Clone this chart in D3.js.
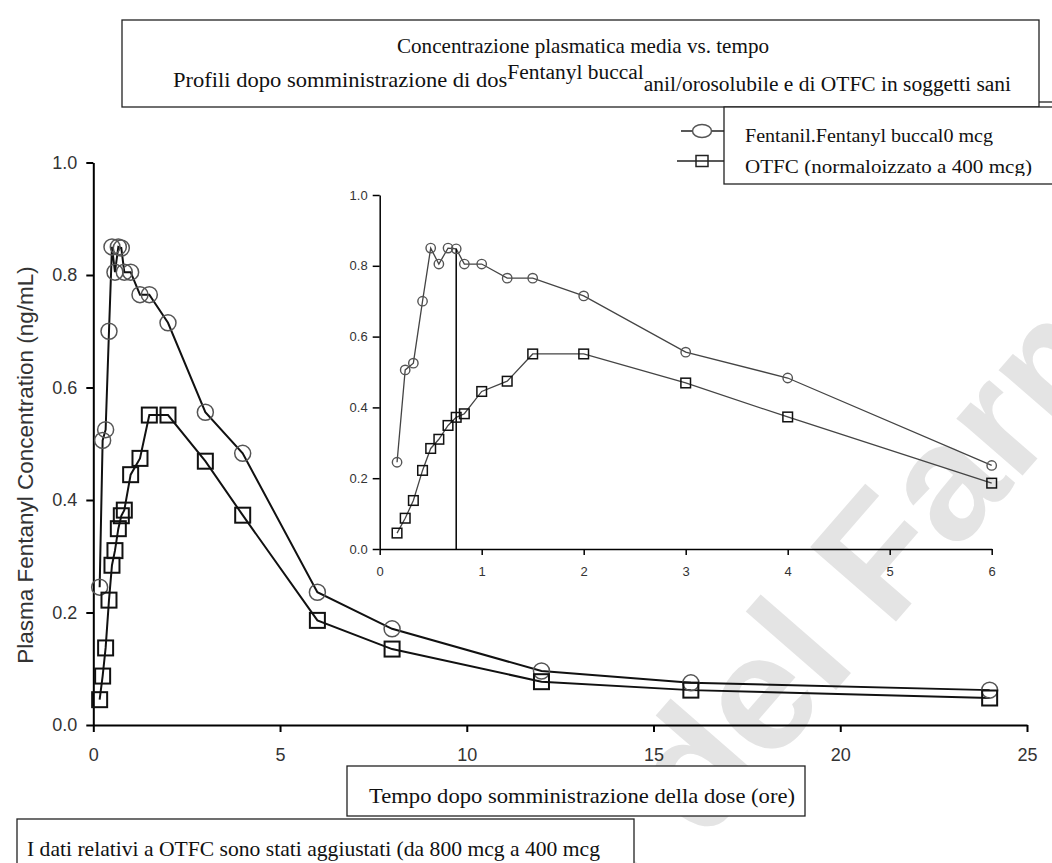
<!DOCTYPE html>
<html>
<head>
<meta charset="utf-8">
<script src="https://cdn.jsdelivr.net/npm/d3@7"></script>
<style>
  body { margin: 0; background: #fff; }
  svg { display: block; }
</style>
</head>
<body>
<div id="chart"></div>
<script>
// time after dose (h)
const times = [0.17, 0.25, 0.33, 0.42, 0.5, 0.58, 0.67, 0.75, 0.83, 1, 1.25, 1.5, 2, 3, 4, 6, 8, 12, 16, 24];
// mean plasma concentration (ng/mL)
const fentanyl = [0.245, 0.506, 0.525, 0.70, 0.85, 0.805, 0.85, 0.848, 0.805, 0.805, 0.765, 0.765, 0.715, 0.556, 0.483, 0.236, 0.171, 0.096, 0.075, 0.062];
const otfc = [0.045, 0.087, 0.137, 0.222, 0.284, 0.31, 0.349, 0.372, 0.382, 0.445, 0.474, 0.551, 0.551, 0.469, 0.373, 0.186, 0.135, 0.077, 0.062, 0.048];

const mainXTicks = [0, 5, 10, 15, 20, 25];
const yTicks = [0, 0.2, 0.4, 0.6, 0.8, 1.0];
const insetXTicks = [0, 1, 2, 3, 4, 5, 6];
const insetMaxTime = 6;
const tmaxLine = 0.75;

const titleLine1 = "Concentrazione plasmatica media vs. tempo";
const titleLine2 = ["Profili dopo somministrazione di dos", "Fentanyl buccal", "anil/orosolubile e di OTFC in soggetti sani"];
const legendLabels = ["Fentanil.Fentanyl buccal0 mcg", "OTFC (normaloizzato a 400 mcg)"];
const xTitle = "Tempo dopo somministrazione della dose (ore)";
const yTitle = "Plasma Fentanyl Concentration (ng/mL)";
const footnote = "I dati relativi a OTFC sono stati aggiustati (da 800 mcg a 400 mcg";

const W = 1052, H = 863;
const serif = "'Liberation Serif', 'Times New Roman', serif";
const sans = "'Liberation Sans', Arial, sans-serif";

const svg = d3.select("#chart").append("svg")
  .attr("width", W).attr("height", H)
  .attr("viewBox", [0, 0, W, H]);

svg.append("rect").attr("width", W).attr("height", H).attr("fill", "#fff");

// watermark, clipped by the page edge as in the source
svg.append("defs").append("clipPath").attr("id", "pageclip")
  .append("rect").attr("width", W).attr("height", H);
svg.append("g").attr("clip-path", "url(#pageclip)")
  .append("text")
  .attr("transform", "translate(612,948) rotate(-49)")
  .attr("font-family", sans)
  .attr("font-size", 165)
  .attr("font-weight", "bold")
  .attr("fill", "#e4e4e4")
  .text("a del Farma");

const data = times.map((t, i) => ({ t: t, f: fentanyl[i], o: otfc[i] }));

// ---------- main plot ----------
const x = d3.scaleLinear().domain([0, 25]).range([93.3, 1027]);
const y = d3.scaleLinear().domain([0, 1]).range([725, 162.5]);

const xAxis = d3.axisBottom(x).tickValues(mainXTicks).tickFormat(d3.format("d"))
  .tickSizeInner(7).tickSizeOuter(0).tickPadding(16);
const yAxis = d3.axisLeft(y).tickValues(yTicks).tickFormat(d3.format(".1f"))
  .tickSizeInner(7).tickSizeOuter(0).tickPadding(9);

function styleAxis(g, size) {
  g.select(".domain").attr("stroke", "#000").attr("stroke-width", 2);
  g.selectAll(".tick line").attr("stroke", "#000").attr("stroke-width", 2);
  g.selectAll(".tick text").attr("fill", "#333").attr("font-size", size).attr("font-family", sans);
}

svg.append("g").attr("transform", "translate(0," + y(0) + ")").call(xAxis).call(styleAxis, 18);
svg.append("g").attr("transform", "translate(" + x(0) + ",0)").call(yAxis).call(styleAxis, 18);

svg.append("text")
  .attr("transform", "translate(33,465) rotate(-90)")
  .attr("text-anchor", "middle")
  .attr("font-family", sans)
  .attr("font-size", 22.5)
  .attr("fill", "#333")
  .text(yTitle);

const lineF = d3.line().x(d => x(d.t)).y(d => y(d.f));
const lineO = d3.line().x(d => x(d.t)).y(d => y(d.o));

svg.append("path").datum(data).attr("d", lineF).attr("fill", "none").attr("stroke", "#111").attr("stroke-width", 2);
svg.append("path").datum(data).attr("d", lineO).attr("fill", "none").attr("stroke", "#111").attr("stroke-width", 2);

svg.append("g").selectAll("circle").data(data).join("circle")
  .attr("cx", d => x(d.t)).attr("cy", d => y(d.f)).attr("r", 8)
  .attr("fill", "none").attr("stroke", "#555").attr("stroke-width", 1.5);

svg.append("g").selectAll("rect").data(data).join("rect")
  .attr("x", d => x(d.t) - 7.5).attr("y", d => y(d.o) - 7.5)
  .attr("width", 15).attr("height", 15)
  .attr("fill", "none").attr("stroke", "#111").attr("stroke-width", 2);

// ---------- inset ----------
const inset = data.filter(d => d.t <= insetMaxTime);
const xi = d3.scaleLinear().domain([0, 6]).range([379.7, 991.7]);
const yi = d3.scaleLinear().domain([0, 1]).range([549, 195]);

const xiAxis = d3.axisBottom(xi).tickValues(insetXTicks).tickFormat(d3.format("d"))
  .tickSizeInner(6).tickSizeOuter(0).tickPadding(12);
const yiAxis = d3.axisLeft(yi).tickValues(yTicks).tickFormat(d3.format(".1f"))
  .tickSizeInner(7).tickSizeOuter(0).tickPadding(5);

function styleInset(g) {
  g.select(".domain").attr("stroke", "#000").attr("stroke-width", 1.5);
  g.selectAll(".tick line").attr("stroke", "#000").attr("stroke-width", 1.5);
  g.selectAll(".tick text").attr("fill", "#333").attr("font-size", 13).attr("font-family", sans);
}

svg.append("g").attr("transform", "translate(0," + yi(0) + ")").call(xiAxis).call(styleInset);
svg.append("g").attr("transform", "translate(" + xi(0) + ",0)").call(yiAxis).call(styleInset);

const lineFi = d3.line().x(d => xi(d.t)).y(d => yi(d.f));
const lineOi = d3.line().x(d => xi(d.t)).y(d => yi(d.o));

svg.append("path").datum(inset).attr("d", lineFi).attr("fill", "none").attr("stroke", "#444").attr("stroke-width", 1.3);
svg.append("path").datum(inset).attr("d", lineOi).attr("fill", "none").attr("stroke", "#444").attr("stroke-width", 1.3);

// vertical line at tmax
const tmaxF = inset.find(d => d.t === tmaxLine).f;
svg.append("line")
  .attr("x1", xi(tmaxLine)).attr("x2", xi(tmaxLine))
  .attr("y1", yi(0)).attr("y2", yi(tmaxF))
  .attr("stroke", "#000").attr("stroke-width", 1.5);

svg.append("g").selectAll("circle").data(inset).join("circle")
  .attr("cx", d => xi(d.t)).attr("cy", d => yi(d.f)).attr("r", 4.7)
  .attr("fill", "none").attr("stroke", "#555").attr("stroke-width", 1.4);

svg.append("g").selectAll("rect").data(inset).join("rect")
  .attr("x", d => xi(d.t) - 4.8).attr("y", d => yi(d.o) - 4.8)
  .attr("width", 9.6).attr("height", 9.6)
  .attr("fill", "none").attr("stroke", "#111").attr("stroke-width", 1.5);

// ---------- text boxes ----------
function box(x0, y0, w, h) {
  svg.append("rect").attr("x", x0).attr("y", y0).attr("width", w).attr("height", h)
    .attr("fill", "#fff").attr("stroke", "#222").attr("stroke-width", 1.3);
}

// title
box(122, 20, 917, 87);
svg.append("line").attr("x1", 1039).attr("x2", 1052).attr("y1", 102).attr("y2", 102)
  .attr("stroke", "#222").attr("stroke-width", 1.3);

svg.append("text")
  .attr("x", 583).attr("y", 53)
  .attr("text-anchor", "middle")
  .attr("font-family", serif).attr("font-size", 21).attr("fill", "#111")
  .attr("textLength", 372).attr("lengthAdjust", "spacingAndGlyphs")
  .text(titleLine1);

const t2 = svg.append("text")
  .attr("x", 173).attr("y", 87)
  .attr("font-family", serif).attr("font-size", 21).attr("fill", "#111")
  .attr("textLength", 838).attr("lengthAdjust", "spacingAndGlyphs");
t2.append("tspan").text(titleLine2[0]);
t2.append("tspan").attr("dy", -8).attr("font-size", 20).text(titleLine2[1]);
t2.append("tspan").attr("dy", 12).attr("font-size", 20).text(titleLine2[2]);

// legend
box(724, 107, 340, 77);
svg.select("defs").append("clipPath").attr("id", "legclip")
  .append("rect").attr("x", 724).attr("y", 107).attr("width", 330).attr("height", 69);

const legG = svg.append("g");
legG.append("line").attr("x1", 681).attr("x2", 724).attr("y1", 131).attr("y2", 131).attr("stroke", "#222").attr("stroke-width", 1.5);
legG.append("ellipse").attr("cx", 702).attr("cy", 131).attr("rx", 9.5).attr("ry", 6.5)
  .attr("fill", "#fff").attr("stroke", "#555").attr("stroke-width", 1.5);
legG.append("line").attr("x1", 677).attr("x2", 724).attr("y1", 161).attr("y2", 161).attr("stroke", "#222").attr("stroke-width", 1.5);
legG.append("rect").attr("x", 696).attr("y", 155.5).attr("width", 12).attr("height", 11)
  .attr("fill", "none").attr("stroke", "#222").attr("stroke-width", 1.5);

const legText = svg.append("g").attr("clip-path", "url(#legclip)");
legText.selectAll("text").data(legendLabels).join("text")
  .attr("x", 745).attr("y", (d, i) => 141.7 + i * 31)
  .attr("font-family", serif).attr("font-size", 18.5).attr("fill", "#111")
  .attr("textLength", (d, i) => [248, 287][i])
  .attr("lengthAdjust", "spacingAndGlyphs")
  .text(d => d);

// x-axis title box
box(347, 766, 458, 50);
svg.append("text")
  .attr("x", 369).attr("y", 803)
  .attr("font-family", serif).attr("font-size", 21).attr("fill", "#111")
  .attr("textLength", 426).attr("lengthAdjust", "spacingAndGlyphs")
  .text(xTitle);

// footnote box
box(17, 819, 617, 70);
svg.append("text")
  .attr("x", 27).attr("y", 856)
  .attr("font-family", serif).attr("font-size", 21).attr("fill", "#111")
  .attr("textLength", 573).attr("lengthAdjust", "spacingAndGlyphs")
  .text(footnote);
</script>
</body>
</html>
